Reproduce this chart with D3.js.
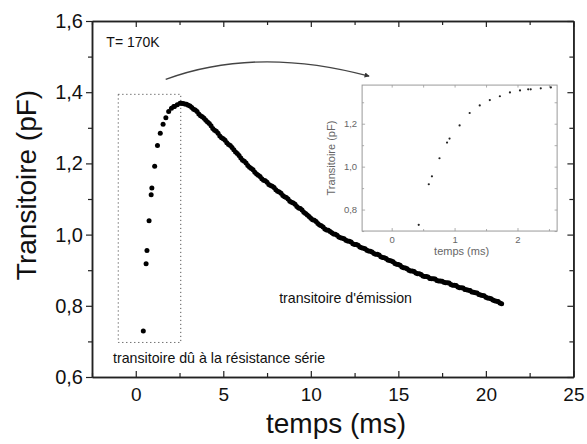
<!DOCTYPE html>
<html><head><meta charset="utf-8">
<script src="https://cdn.jsdelivr.net/npm/d3@7"></script>
<style>
html,body{margin:0;padding:0;background:#fff;}
svg{display:block;font-family:"Liberation Sans",Arial,sans-serif;}
</style></head>
<body>
<svg id="chart" width="587" height="444"></svg>
<script>
// ---- data ----
const riseTime = [0.43,0.59,0.64,0.76,0.88,0.92,1.08,1.24,1.40,1.56,1.72,1.88,2.04,2.17,2.21,2.37,2.53];
const riseCap  = [0.729,0.918,0.955,1.039,1.112,1.131,1.192,1.250,1.285,1.310,1.328,1.346,1.355,1.360,1.360,1.365,1.369];
const decayTime = [
  2.6,2.7,2.8,2.9,3.0,3.1,3.2,3.3,3.4,3.5,
  3.6,3.7,3.8,3.9,4.0,4.1,4.2,4.3,4.4,4.5,
  4.6,4.7,4.8,4.9,5.0,5.1,5.2,5.3,5.4,5.5,
  5.6,5.7,5.8,5.9,6.0,6.1,6.2,6.3,6.4,6.5,
  6.6,6.7,6.8,6.9,7.0,7.1,7.2,7.3,7.4,7.5,
  7.6,7.7,7.8,7.9,8.0,8.1,8.2,8.3,8.4,8.5,
  8.6,8.7,8.8,8.9,9.0,9.1,9.2,9.3,9.4,9.5,
  9.6,9.7,9.8,9.9,10.0,10.1,10.2,10.3,10.4,10.5,
  10.6,10.7,10.8,10.9,11.0,11.1,11.2,11.3,11.4,11.5,
  11.6,11.7,11.8,11.9,12.0,12.1,12.2,12.3,12.4,12.5,
  12.6,12.7,12.8,12.9,13.0,13.1,13.2,13.3,13.4,13.5,
  13.6,13.7,13.8,13.9,14.0,14.1,14.2,14.3,14.4,14.5,
  14.6,14.7,14.8,14.9,15.0,15.1,15.2,15.3,15.4,15.5,
  15.6,15.7,15.8,15.9,16.0,16.1,16.2,16.3,16.4,16.5,
  16.6,16.7,16.8,16.9,17.0,17.1,17.2,17.3,17.4,17.5,
  17.6,17.7,17.8,17.9,18.0,18.1,18.2,18.3,18.4,18.5,
  18.6,18.7,18.8,18.9,19.0,19.1,19.2,19.3,19.4,19.5,
  19.6,19.7,19.8,19.9,20.0,20.1,20.2,20.3,20.4,20.5,
  20.6,20.7,20.8,20.9];
const decayCap = [
  1.369,1.368,1.367,1.366,1.363,1.361,1.357,1.352,1.350,1.346,
  1.339,1.334,1.331,1.327,1.321,1.316,1.312,1.306,1.298,1.293,
  1.290,1.285,1.277,1.272,1.269,1.265,1.258,1.253,1.250,1.245,
  1.238,1.232,1.228,1.222,1.215,1.209,1.206,1.201,1.194,1.189,
  1.186,1.182,1.175,1.170,1.167,1.163,1.157,1.153,1.151,1.147,
  1.141,1.138,1.136,1.132,1.126,1.122,1.120,1.116,1.110,1.106,
  1.104,1.100,1.094,1.091,1.089,1.085,1.079,1.075,1.073,1.069,
  1.063,1.059,1.055,1.051,1.046,1.042,1.040,1.037,1.031,1.027,
  1.025,1.021,1.016,1.013,1.012,1.009,1.005,1.002,1.001,0.998,
  0.993,0.991,0.990,0.988,0.984,0.982,0.981,0.979,0.974,0.972,
  0.972,0.970,0.965,0.963,0.962,0.960,0.956,0.954,0.953,0.951,
  0.947,0.945,0.945,0.943,0.938,0.936,0.935,0.933,0.929,0.927,
  0.926,0.924,0.919,0.917,0.916,0.914,0.909,0.907,0.906,0.904,
  0.900,0.898,0.898,0.896,0.892,0.890,0.890,0.888,0.884,0.882,
  0.882,0.881,0.877,0.876,0.876,0.875,0.871,0.870,0.870,0.869,
  0.866,0.865,0.865,0.864,0.860,0.858,0.858,0.857,0.853,0.851,
  0.851,0.850,0.846,0.845,0.844,0.843,0.839,0.838,0.837,0.836,
  0.832,0.830,0.829,0.828,0.824,0.822,0.821,0.820,0.816,0.814,
  0.813,0.812,0.808,0.806];
const xTicks = [0,5,10,15,20,25];
const yTicks = [0.6,0.8,1.0,1.2,1.4,1.6];
const insetXTicks = [0,1,2];
const insetYTicks = [0.8,1.0,1.2];
const labels = {
  temp: "T= 170K",
  series: "transitoire dû à la résistance série",
  emission: "transitoire d'émission",
  xTitle: "temps (ms)",
  yTitle: "Transitoire (pF)"
};

// ---- layout ----
const svg = d3.select("#chart");
const W = 587, H = 444;
const m = {l:92, t:21, r:13.6, b:67};
const x = d3.scaleLinear().domain([-2.5,25]).range([m.l, W-m.r]);
const y = d3.scaleLinear().domain([0.6,1.6]).range([H-m.b, m.t]);
const fmt = d3.formatLocale({decimal:",",thousands:".",grouping:[3],currency:["",""]});
const f1 = fmt.format(".1f");

const mainPts = riseTime.map((t,i)=>[t,riseCap[i]]).concat(decayTime.map((t,i)=>[t,decayCap[i]]));

const axisCol = "#222";
function styleAxis(g){
  g.select(".domain").attr("stroke",axisCol).attr("stroke-width",1.5);
  g.selectAll(".tick line").attr("stroke",axisCol).attr("stroke-width",1.2);
}
const xMinor = [-2.5,2.5,7.5,12.5,17.5,22.5];
const yMinor = [0.7,0.9,1.1,1.3,1.5];

// minor ticks
svg.append("g").attr("transform",`translate(0,${y(0.6)})`)
  .call(d3.axisBottom(x).tickValues(xMinor).tickSizeInner(-4).tickSizeOuter(0).tickFormat(""))
  .call(styleAxis);
svg.append("g").attr("transform",`translate(0,${y(1.6)})`)
  .call(d3.axisTop(x).tickValues(xMinor).tickSizeInner(-4).tickSizeOuter(0).tickFormat(""))
  .call(styleAxis);
svg.append("g").attr("transform",`translate(${x(-2.5)},0)`)
  .call(d3.axisLeft(y).tickValues(yMinor).tickSizeInner(4).tickSizeOuter(0).tickFormat(""))
  .call(styleAxis);
svg.append("g").attr("transform",`translate(${x(25)},0)`)
  .call(d3.axisRight(y).tickValues(yMinor).tickSizeInner(-4).tickSizeOuter(0).tickFormat(""))
  .call(styleAxis);

// major ticks
const gx = svg.append("g").attr("transform",`translate(0,${y(0.6)})`)
  .call(d3.axisBottom(x).tickValues(xTicks).tickSizeInner(-6).tickSizeOuter(0).tickPadding(11).tickFormat(d3.format("d")))
  .call(styleAxis);
gx.selectAll("text").attr("font-size",19).attr("fill","#111").attr("font-family","Liberation Sans, Arial, sans-serif");
svg.append("g").attr("transform",`translate(0,${y(1.6)})`)
  .call(d3.axisTop(x).tickValues(xTicks).tickSizeInner(-6).tickSizeOuter(0).tickFormat(""))
  .call(styleAxis);
const gy = svg.append("g").attr("transform",`translate(${x(-2.5)},0)`)
  .call(d3.axisLeft(y).tickValues(yTicks).tickSizeInner(6).tickSizeOuter(0).tickPadding(3).tickFormat(f1))
  .call(styleAxis);
gy.selectAll("text").attr("font-size",20).attr("fill","#111").attr("font-family","Liberation Sans, Arial, sans-serif");
svg.append("g").attr("transform",`translate(${x(25)},0)`)
  .call(d3.axisRight(y).tickValues(yTicks).tickSizeInner(-6).tickSizeOuter(0).tickFormat(""))
  .call(styleAxis);

// titles
svg.append("text").attr("x",336).attr("y",433).attr("text-anchor","middle")
  .attr("font-size",28).attr("fill","#111").text(labels.xTitle);
svg.append("text").attr("transform","translate(36,185) rotate(-90)").attr("text-anchor","middle")
  .attr("font-size",28).attr("fill","#111").text(labels.yTitle);

// annotation: dotted box around the fast rise
const box = {t0:-1.0, t1:2.57, c0:0.697, c1:1.394};
svg.append("rect").attr("x",x(box.t0)).attr("y",y(box.c1))
  .attr("width",x(box.t1)-x(box.t0)).attr("height",y(box.c0)-y(box.c1))
  .attr("fill","none").attr("stroke","#555").attr("stroke-width",1).attr("stroke-dasharray","1.2,2.8");

// texts
svg.append("text").attr("x",x(-1.68)).attr("y",y(1.528)).attr("font-size",14).attr("fill","#111").text(labels.temp);
svg.append("text").attr("x",x(-1.3)).attr("y",y(0.638)).attr("font-size",14.2).attr("fill","#111").text(labels.series);
svg.append("text").attr("x",x(8.19)).attr("y",y(0.807)).attr("font-size",14.2).attr("fill","#111").text(labels.emission);

// main points
svg.append("g").selectAll("circle").data(mainPts).join("circle")
  .attr("cx",d=>x(d[0])).attr("cy",d=>y(d[1])).attr("r",2.5).attr("fill","#000");

// curved arrow
const arr = {s:[1.71,1.436], c:[6.9,1.530], e:[13.33,1.445]};
svg.append("defs").append("marker").attr("id","ah").attr("viewBox","0 0 10 10")
  .attr("refX",9).attr("refY",5).attr("markerWidth",9).attr("markerHeight",5)
  .attr("markerUnits","userSpaceOnUse").attr("orient","auto")
  .append("path").attr("d","M0,0L10,5L0,10z").attr("fill","#333");
const p = d3.path();
p.moveTo(x(arr.s[0]),y(arr.s[1]));
p.quadraticCurveTo(x(arr.c[0]),y(arr.c[1]),x(arr.e[0]),y(arr.e[1]));
svg.append("path").attr("d",p.toString()).attr("fill","none").attr("stroke","#444")
  .attr("stroke-width",1.3).attr("marker-end","url(#ah)");

// ---- inset ----
const ins = {t0:12.93, t1:24.07, c0:1.010, c1:1.420};
const ix = d3.scaleLinear().domain([-0.47,2.63]).range([x(ins.t0), x(ins.t1)]);
const iy = d3.scaleLinear().domain([0.70,1.38]).range([y(ins.c0), y(ins.c1)]);
const gi = svg.append("g");
gi.append("rect").attr("x",ix.range()[0]).attr("y",iy.range()[1])
  .attr("width",ix.range()[1]-ix.range()[0]).attr("height",iy.range()[0]-iy.range()[1])
  .attr("fill","#fff").attr("stroke","#999").attr("stroke-width",1);
const insCol = "#999";
function styleInset(g){
  g.select(".domain").remove();
  g.selectAll(".tick line").attr("stroke",insCol).attr("stroke-width",0.8);
  g.selectAll("text").attr("font-size",9.5).attr("fill","#666").attr("font-family","Liberation Sans, Arial, sans-serif");
}
const ixMinor = [0.5,1.5,2.5];
const iyMinor = [0.7,0.9,1.1,1.3];
gi.append("g").attr("transform",`translate(0,${iy(0.70)})`)
  .call(d3.axisBottom(ix).tickValues(insetXTicks).tickSizeInner(-3).tickSizeOuter(0).tickPadding(5).tickFormat(d3.format("d"))).call(styleInset);
gi.append("g").attr("transform",`translate(0,${iy(0.70)})`)
  .call(d3.axisBottom(ix).tickValues(ixMinor).tickSizeInner(-2).tickSizeOuter(0).tickFormat("")).call(styleInset);
gi.append("g").attr("transform",`translate(0,${iy(1.38)})`)
  .call(d3.axisTop(ix).tickValues(insetXTicks.concat(ixMinor)).tickSizeInner(-2.5).tickSizeOuter(0).tickFormat("")).call(styleInset);
gi.append("g").attr("transform",`translate(${ix(-0.47)},0)`)
  .call(d3.axisLeft(iy).tickValues(insetYTicks).tickSizeInner(-3).tickSizeOuter(0).tickPadding(5).tickFormat(f1)).call(styleInset);
gi.append("g").attr("transform",`translate(${ix(-0.47)},0)`)
  .call(d3.axisLeft(iy).tickValues(iyMinor).tickSizeInner(-2).tickSizeOuter(0).tickFormat("")).call(styleInset);
gi.append("g").attr("transform",`translate(${ix(2.63)},0)`)
  .call(d3.axisRight(iy).tickValues(insetYTicks.concat(iyMinor)).tickSizeInner(-2.5).tickSizeOuter(0).tickFormat("")).call(styleInset);
gi.append("text").attr("x",(ix.range()[0]+ix.range()[1])/2+2).attr("y",iy.range()[0]+24)
  .attr("text-anchor","middle").attr("font-size",11).attr("fill","#666").text(labels.xTitle);
gi.append("text").attr("transform",`translate(${ix.range()[0]-27},${(iy.range()[0]+iy.range()[1])/2})rotate(-90)`)
  .attr("text-anchor","middle").attr("font-size",11).attr("fill","#666").text(labels.yTitle);
const insetPts = riseTime.map((t,i)=>[t,riseCap[i]]);
gi.append("g").selectAll("circle").data(insetPts).join("circle")
  .attr("cx",d=>ix(d[0])).attr("cy",d=>iy(d[1])).attr("r",1.1).attr("fill","#222");
</script>
</body></html>
